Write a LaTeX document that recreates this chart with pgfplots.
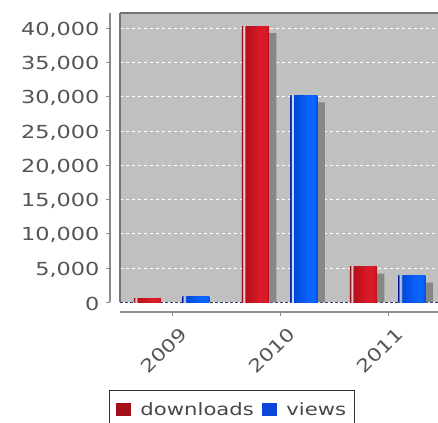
\documentclass[border=0pt]{standalone}
\usepackage{fontspec}
\usepackage{graphicx}
\setmainfont{DejaVu Sans}
\newfontfamily\lbl{DejaVu Sans}[FakeStretch=1.25]
\newfontfamily\plainlbl{DejaVu Sans}
\usepackage{pgfplots}
\pgfplotsset{compat=1.18}
\definecolor{bg}{HTML}{C0C0C0}
\definecolor{bordergray}{HTML}{747474}
\definecolor{axisgray}{HTML}{8C8C8C}
\definecolor{labelgray}{HTML}{555555}
\definecolor{navyline}{HTML}{3A3A78}
\definecolor{shadowgray}{HTML}{878787}
\definecolor{legred}{HTML}{A50F1A}
\definecolor{legblue}{HTML}{0A46D8}
\definecolor{r0}{HTML}{8A0C16}
\definecolor{rl}{HTML}{F2C6C6}
\definecolor{r1}{HTML}{B40F1C}
\definecolor{r2}{HTML}{DA1A26}
\definecolor{r3}{HTML}{B01420}
\definecolor{b0}{HTML}{0A30A0}
\definecolor{bl}{HTML}{C8DCFF}
\definecolor{b1}{HTML}{0046D6}
\definecolor{b2}{HTML}{0A64FF}
\definecolor{b3}{HTML}{0050DC}
\pgfdeclarehorizontalshading{redbar}{100bp}{color(0bp)=(r0); color(25bp)=(r0); color(26.2bp)=(r0); color(27.4bp)=(rl); color(30bp)=(rl); color(31.4bp)=(r1); color(58bp)=(r2); color(70bp)=(r2); color(75bp)=(r3); color(100bp)=(r3)}
\pgfdeclarehorizontalshading{bluebar}{100bp}{color(0bp)=(b0); color(25bp)=(b0); color(26.2bp)=(b0); color(27.4bp)=(bl); color(30bp)=(bl); color(31.4bp)=(b1); color(58bp)=(b2); color(70bp)=(b2); color(75bp)=(b3); color(100bp)=(b3)}
\pgfplotsset{
  dlbar/.style={ybar, bar width=27bp, bar shift=-25bp, shading=redbar, draw=none, forget plot},
  vwbar/.style={ybar, bar width=27bp, bar shift=23.5bp, shading=bluebar, draw=none, forget plot},
}
\newcommand{\wide}[1]{\scalebox{1.22}[1]{#1}}
\begin{document}
\begin{tikzpicture}
\path[use as bounding box] (0bp,0bp) rectangle (438bp,423bp);
% main plot area
\begin{axis}[
  at={(120bp,120.7bp)}, anchor=south west, scale only axis,
  width=318bp, height=289.3bp,
  xmin=-0.484, xmax=2.46, ymin=0, ymax=42200,
  scaled y ticks=false,
  axis background/.style={fill=bg},
  axis x line*=top, axis y line*=left,
  axis line style={draw=bordergray, line width=2bp, -},
  xtick=\empty, ytick={5000,10000,...,40000}, yticklabels={},
  major tick length=0pt, tick style={draw=none},
  ymajorgrids, grid style={white, dash pattern=on 3bp off 3bp, line width=0.8bp},
  extra y ticks={0}, extra y tick labels={},
  extra y tick style={grid style={navyline, dash pattern=on 3bp off 2bp, line width=1bp}},
  legend columns=2,
  legend style={at={(axis description cs:-0.0346,-0.303)}, anchor=north west,
    draw=black!80, line width=1bp, fill=white,
    font=\lbl\fontsize{17}{20}\selectfont, text=black!72,
    inner xsep=6.5bp, inner ysep=10bp,
    /tikz/every odd column/.append style={column sep=7bp},
    /tikz/every even column/.append style={column sep=6bp}},
  legend image code/.code={\fill[#1] (0bp,-6bp) rectangle (15.5bp,7bp);},
]
% shadows
\addplot[ybar, bar width=27bp, bar shift=-17.5bp, fill=shadowgray, draw=none, forget plot]
  coordinates {(1,39280) (2,4180)};
\addplot[ybar, bar width=27bp, bar shift=31bp, fill=shadowgray, draw=none, forget plot]
  coordinates {(1,29180) (2,2880)};
% bars (one plot per bar so that each bar gets its own shading)
\addplot[dlbar] coordinates {(0,600)};
\addplot[dlbar] coordinates {(1,40300)};
\addplot[dlbar] coordinates {(2,5200)};
\addplot[vwbar] coordinates {(0,850)};
\addplot[vwbar] coordinates {(1,30200)};
\addplot[vwbar] coordinates {(2,3900)};
\addlegendimage{fill=legred, draw=none}
\addlegendentry{downloads}
\addlegendimage{fill=legblue, draw=none}
\addlegendentry{views}
\end{axis}
% y axis (offset)
\begin{axis}[
  at={(110bp,120.7bp)}, anchor=south west, scale only axis,
  width=1bp, height=289.3bp,
  xmin=0, xmax=1, ymin=0, ymax=42200,
  axis y line*=left, axis x line=none,
  ytick={0,5000,...,40000}, tick align=outside, major tick length=4bp,
  tick style={axisgray, line width=1bp},
  axis line style={axisgray, line width=1.2bp, -},
  yticklabel style={font=\lbl\fontsize{18}{20}\selectfont, text=labelgray, xshift=-3bp, yshift=-1.5bp},
  scaled y ticks=false,
  /pgf/number format/.cd, 1000 sep={,}, assume math mode=true,
]
\end{axis}
% x axis (offset)
\begin{axis}[
  at={(120bp,111bp)}, anchor=south west, scale only axis,
  width=318bp, height=1bp,
  xmin=-0.484, xmax=2.46, ymin=0, ymax=1,
  axis x line*=bottom, axis y line=none,
  xtick={0,1,2}, xticklabels={\wide{2009},\wide{2010},\wide{2011}},
  tick align=outside, major tick length=4bp,
  tick style={axisgray, line width=1bp},
  axis line style={axisgray, line width=1.2bp, -},
  xticklabel style={rotate=45, anchor=north east, font=\plainlbl\fontsize{18}{20}\selectfont, text=labelgray, xshift=1bp, yshift=-8bp},
]
\end{axis}
\end{tikzpicture}
\end{document}
